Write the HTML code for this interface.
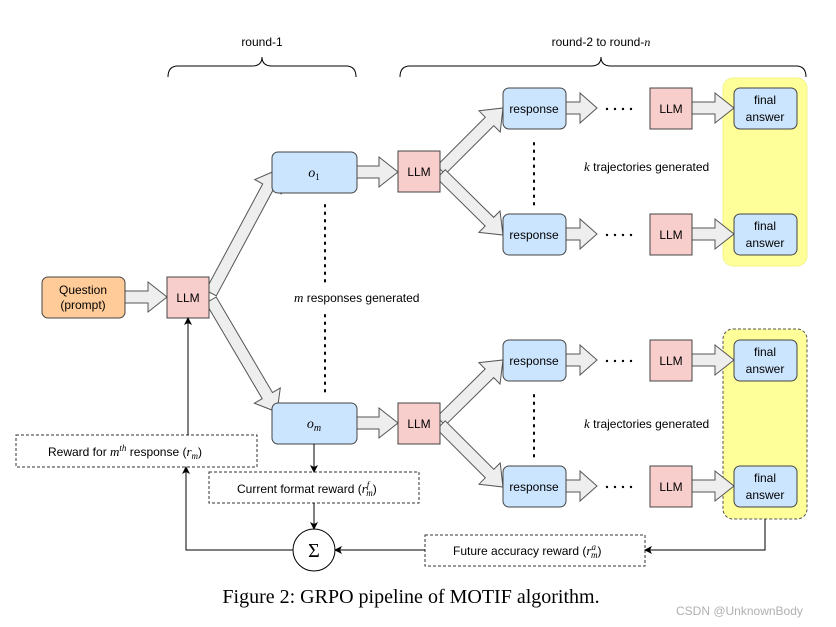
<!DOCTYPE html>
<html><head><meta charset="utf-8"><style>
html,body{margin:0;padding:0;background:#fff;width:836px;height:627px;overflow:hidden}
svg{display:block}
text{font-family:"Liberation Sans",sans-serif;font-size:12px;fill:#000}
.m{font-family:"Liberation Serif",serif;font-style:italic}
.serif{font-family:"Liberation Serif",serif}
</style></head><body>
<svg id="s" width="836" height="627" viewBox="0 0 836 627" xmlns="http://www.w3.org/2000/svg">
<defs><marker id="ah" markerWidth="8" markerHeight="8" refX="7" refY="4" orient="auto" markerUnits="userSpaceOnUse"><path d="M0,0 L8,4 L0,8 L2,4 z" fill="#000"/></marker></defs>
<path d="M168,77 Q168,66 178,66 L252,66 Q262,66 262,57 Q262,66 272,66 L346,66 Q356,66 356,77" fill="none" stroke="#000" stroke-width="1"/>
<path d="M400,77 Q400,66 410,66 L591,66 Q601,66 601,57 Q601,66 611,66 L796,66 Q806,66 806,77" fill="none" stroke="#000" stroke-width="1"/>
<text x="262" y="46" text-anchor="middle">round-1</text>
<text x="601" y="46" text-anchor="middle">round-2  to  round-<tspan class="m">n</tspan></text>
<rect x="723" y="78" width="84" height="188" rx="10" fill="#ffff99" stroke="#f3f38a"/>
<rect x="723" y="329" width="84" height="190" rx="10" fill="#ffff99" stroke="#555" stroke-dasharray="3,2"/>
<g id="arrows"></g>
<rect x="42" y="277" width="83" height="41" rx="6" fill="#ffcc99" stroke="#444"/>
<text x="83" y="294" text-anchor="middle">Question</text><text x="83" y="309" text-anchor="middle">(prompt)</text>
<g fill="#f8cecc" stroke="#444">
<rect x="167" y="277" width="42" height="41"/>
<rect x="398" y="151" width="42" height="41"/>
<rect x="398" y="403" width="42" height="41"/>
<rect x="650" y="88" width="42" height="41"/>
<rect x="650" y="214" width="42" height="41"/>
<rect x="650" y="340" width="42" height="41"/>
<rect x="650" y="466" width="42" height="41"/>
</g>
<g text-anchor="middle">
<text x="188" y="302">LLM</text><text x="419" y="176">LLM</text><text x="419" y="428">LLM</text>
<text x="671" y="113">LLM</text><text x="671" y="239">LLM</text><text x="671" y="365">LLM</text><text x="671" y="491">LLM</text>
</g>
<g fill="#cce5ff" stroke="#444">
<rect x="272" y="152" width="85" height="41" rx="6"/>
<rect x="272" y="403" width="85" height="41" rx="6"/>
<rect x="503" y="88" width="63" height="41" rx="6"/>
<rect x="503" y="214" width="63" height="41" rx="6"/>
<rect x="503" y="340" width="63" height="41" rx="6"/>
<rect x="503" y="466" width="63" height="41" rx="6"/>
<rect x="734" y="88" width="63" height="41" rx="6"/>
<rect x="734" y="214" width="63" height="41" rx="6"/>
<rect x="734" y="340" width="63" height="41" rx="6"/>
<rect x="734" y="466" width="63" height="41" rx="6"/>
</g>
<text x="314" y="177" text-anchor="middle" class="m" style="font-size:14px">o<tspan style="font-size:9px;font-style:normal" dy="3">1</tspan></text>
<text x="314" y="428" text-anchor="middle" class="m" style="font-size:14px">o<tspan style="font-size:10px" dy="3">m</tspan></text>
<g text-anchor="middle">
<text x="534" y="113">response</text><text x="534" y="239">response</text><text x="534" y="365">response</text><text x="534" y="491">response</text>
<text x="765" y="104">final</text><text x="765" y="121">answer</text>
<text x="765" y="230">final</text><text x="765" y="247">answer</text>
<text x="765" y="356">final</text><text x="765" y="373">answer</text>
<text x="765" y="482">final</text><text x="765" y="499">answer</text>
</g>
<g fill="none" stroke="#000" stroke-width="2" stroke-dasharray="1.5,6" stroke-linecap="round">
<line x1="534" y1="143" x2="534" y2="206"/><line x1="534" y1="395" x2="534" y2="458"/>
<line x1="325" y1="205" x2="325" y2="285"/><line x1="325" y1="315" x2="325" y2="395"/>
</g>
<g fill="#000">
<circle cx="607" cy="109" r="1.2"/><circle cx="615" cy="109" r="1.2"/><circle cx="623" cy="109" r="1.2"/><circle cx="631" cy="109" r="1.2"/>
<circle cx="607" cy="235" r="1.2"/><circle cx="615" cy="235" r="1.2"/><circle cx="623" cy="235" r="1.2"/><circle cx="631" cy="235" r="1.2"/>
<circle cx="607" cy="361" r="1.2"/><circle cx="615" cy="361" r="1.2"/><circle cx="623" cy="361" r="1.2"/><circle cx="631" cy="361" r="1.2"/>
<circle cx="607" cy="487" r="1.2"/><circle cx="615" cy="487" r="1.2"/><circle cx="623" cy="487" r="1.2"/><circle cx="631" cy="487" r="1.2"/>
</g>
<text x="584" y="171"><tspan class="m" style="font-size:13px">k</tspan> trajectories generated</text>
<text x="584" y="428"><tspan class="m" style="font-size:13px">k</tspan> trajectories generated</text>
<text x="294" y="302"><tspan class="m" style="font-size:13px">m</tspan> responses generated</text>
<g fill="#fff" stroke="#333" stroke-dasharray="3,2">
<rect x="16" y="435" width="241" height="32"/>
<rect x="209" y="472" width="210" height="31"/>
<rect x="425" y="535" width="220" height="31"/>
</g>
<text x="48" y="456">Reward for <tspan class="m" style="font-size:13px">m</tspan><tspan class="m" style="font-size:9px" dy="-5">th</tspan><tspan dy="5"> response (</tspan><tspan class="m" style="font-size:13px">r</tspan><tspan class="m" style="font-size:9px" dy="3">m</tspan><tspan dy="-3">)</tspan></text>
<text x="237" y="493">Current format reward (<tspan class="m" style="font-size:13px">r</tspan><tspan class="m" style="font-size:9px" dy="-5">f</tspan><tspan class="m" style="font-size:9px" dx="-3" dy="8">m</tspan><tspan dy="-3">)</tspan></text>
<text x="453" y="555">Future accuracy reward (<tspan class="m" style="font-size:13px">r</tspan><tspan class="m" style="font-size:9px" dy="-5">a</tspan><tspan class="m" style="font-size:9px" dx="-5" dy="8">m</tspan><tspan dy="-3">)</tspan></text>
<circle cx="314" cy="550" r="21" fill="#fff" stroke="#000"/>
<text x="314" y="557" text-anchor="middle" class="serif" style="font-size:20px">Σ</text>
<g fill="none" stroke="#000" stroke-width="1" marker-end="url(#ah)">
<line x1="314" y1="444" x2="314" y2="472"/>
<line x1="314" y1="503" x2="314" y2="529"/>
<polyline points="293,550 186,550 186,467"/>
<line x1="188" y1="435" x2="188" y2="318"/>
<polyline points="765,519 765,550 645,550"/>
<line x1="425" y1="550" x2="335" y2="550"/>
</g>
<text x="411" y="603" text-anchor="middle" class="serif" style="font-size:20px">Figure 2: GRPO pipeline of MOTIF algorithm.</text>
<text x="676" y="615" style="font-size:12px;fill:#b0b0b0">CSDN @UnknownBody</text>
</svg>
<script>
var A=[[125,297,167,297],[211,293,277,170],[211,300,277,412],[357,172,398,172],[357,423,398,423],
[441,170,503,108],[441,174,503,235],[441,421,503,360],[441,425,503,487],
[566,108,597,108],[566,234,597,234],[566,360,597,360],[566,486,597,486],
[692,108,734,108],[692,234,734,234],[692,360,734,360],[692,486,734,486]];
var g=document.getElementById('arrows'),s='';
A.forEach(function(a){var dx=a[2]-a[0],dy=a[3]-a[1],L=Math.hypot(dx,dy),ux=dx/L,uy=dy/L,nx=-uy,ny=ux,w=6,h=15,hl=Math.min(19,L*0.55);
var bx=a[2]-ux*hl,by=a[3]-uy*hl;
var p=[[a[0]+nx*w,a[1]+ny*w],[bx+nx*w,by+ny*w],[bx+nx*h,by+ny*h],[a[2],a[3]],[bx-nx*h,by-ny*h],[bx-nx*w,by-ny*w],[a[0]-nx*w,a[1]-ny*w]];
s+='<polygon points="'+p.map(function(q){return q[0].toFixed(1)+','+q[1].toFixed(1)}).join(' ')+'" fill="#eeeeee" stroke="#555" stroke-width="1"/>';});
g.innerHTML=s;
</script>
</body></html>
